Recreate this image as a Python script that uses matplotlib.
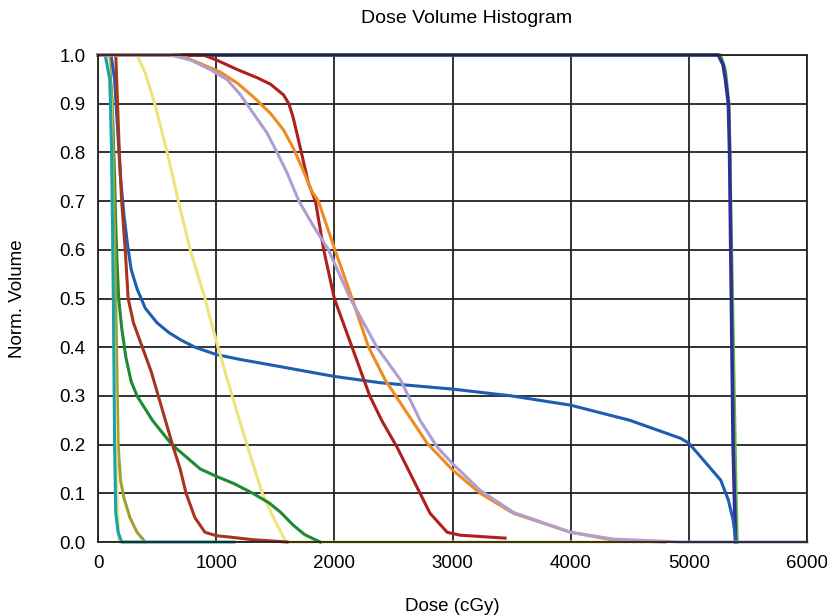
import matplotlib
matplotlib.use("Agg")
import matplotlib.pyplot as plt

plt.rcParams["font.family"] = ["Liberation Sans", "DejaVu Sans"]

# Cumulative dose-volume curves: dose in cGy, normalised volume
ptv_dose = [0, 5250, 5290, 5310, 5335, 5345, 5360, 5375, 5385, 5395]
ptv_vol = [1.0, 1.0, 0.98, 0.95, 0.9, 0.8, 0.5, 0.2, 0.1, 0.0]

ctv_dose = [0, 5270, 5310, 5340, 5355, 5370, 5385, 5400, 5410]
ctv_vol = [1.0, 1.0, 0.97, 0.9, 0.7, 0.5, 0.3, 0.1, 0.0]

body_dose = [0, 110, 140, 165, 190, 220, 250, 280, 330, 400, 500, 600, 700, 820,
             1000, 1200, 1500, 2000, 2390, 3000, 3500, 4000, 4500, 4930, 5000,
             5100, 5270, 5335, 5375, 5400]
body_vol = [1.0, 1.0, 0.95, 0.85, 0.75, 0.67, 0.61, 0.56, 0.52, 0.48, 0.45, 0.43,
            0.415, 0.40, 0.385, 0.375, 0.362, 0.34, 0.327, 0.314, 0.30, 0.281,
            0.25, 0.213, 0.203, 0.175, 0.127, 0.086, 0.045, 0.0]

teal_dose = [0, 60, 100, 115, 125, 130, 140, 150, 170, 200, 1150]
teal_vol = [1.0, 1.0, 0.95, 0.8, 0.6, 0.5, 0.2, 0.06, 0.02, 0.0, 0.0]

olive_dose = [0, 90, 120, 150, 170, 190, 220, 270, 330, 400]
olive_vol = [1.0, 1.0, 0.9, 0.5, 0.2, 0.127, 0.09, 0.05, 0.02, 0.0]

pale_dose = [0, 80, 110, 130, 150, 175, 400]
pale_vol = [1.0, 1.0, 0.9, 0.5, 0.2, 0.0, 0.0]

green_dose = [0, 90, 120, 140, 150, 160, 175, 200, 235, 280, 330, 460, 625, 865,
              1000, 1150, 1310, 1450, 1550, 1650, 1750, 1880]
green_vol = [1.0, 1.0, 0.9, 0.75, 0.65, 0.58, 0.5, 0.44, 0.38, 0.33, 0.3, 0.25,
             0.2, 0.15, 0.135, 0.12, 0.1, 0.08, 0.06, 0.035, 0.015, 0.0]

brown_dose = [0, 150, 165, 180, 200, 230, 255, 300, 375, 450, 510, 630, 695, 745,
              820, 905, 1000, 1120, 1300, 1600]
brown_vol = [1.0, 1.0, 0.9, 0.8, 0.7, 0.6, 0.5, 0.45, 0.4, 0.35, 0.3, 0.2, 0.15,
             0.1, 0.05, 0.02, 0.013, 0.01, 0.005, 0.0]

yellow_dose = [0, 330, 400, 480, 585, 680, 780, 905, 1015, 1135, 1260, 1390, 1485,
               1590, 4800]
yellow_vol = [1.0, 1.0, 0.963, 0.9, 0.8, 0.7, 0.6, 0.5, 0.4, 0.3, 0.2, 0.1, 0.05,
              0.0, 0.0]

red_dose = [0, 890, 1000, 1180, 1350, 1460, 1570, 1615, 1650, 1690, 1735, 1780,
            1840, 1910, 2000, 2150, 2300, 2400, 2530, 2670, 2810, 2955, 3065, 3445]
red_vol = [1.0, 1.0, 0.99, 0.97, 0.953, 0.94, 0.918, 0.9, 0.873, 0.832, 0.785,
           0.737, 0.7, 0.6, 0.5, 0.4, 0.3, 0.25, 0.195, 0.127, 0.059, 0.02, 0.014,
           0.008]

orange_dose = [0, 695, 890, 1035, 1180, 1315, 1460, 1570, 1650, 1735, 1810, 1865,
               2005, 2150, 2290, 2430, 2615, 2785, 3000, 3235, 3515, 4000, 4360,
               4800]
orange_vol = [1.0, 1.0, 0.98, 0.965, 0.942, 0.914, 0.88, 0.846, 0.81, 0.764, 0.72,
              0.7, 0.6, 0.5, 0.4, 0.333, 0.265, 0.203, 0.148, 0.1, 0.059, 0.02,
              0.004, 0.0]

lavender_dose = [0, 610, 780, 950, 1090, 1200, 1315, 1430, 1515, 1600, 1700, 1820,
                 1950, 2135, 2360, 2560, 2725, 2870, 3000, 3235, 3515, 4000, 4360,
                 4930, 6000]
lavender_vol = [1.0, 1.0, 0.99, 0.97, 0.95, 0.92, 0.88, 0.84, 0.80, 0.758, 0.70,
                0.65, 0.6, 0.5, 0.4, 0.333, 0.25, 0.195, 0.161, 0.106, 0.061, 0.02,
                0.006, 0.0, 0.0]

x_ticks = [0, 1000, 2000, 3000, 4000, 5000, 6000]
y_ticks = [0.0, 0.1, 0.2, 0.3, 0.4, 0.5, 0.6, 0.7, 0.8, 0.9, 1.0]

fig = plt.figure(figsize=(8.28, 6.16), dpi=100)
ax = fig.add_axes([0.1184, 0.1201, 0.8562, 0.7906])

ax.set_xlim(0, 6000)
ax.set_ylim(0, 1.0)
ax.set_xticks(x_ticks)
ax.set_yticks(y_ticks)
ax.set_xticklabels([str(t) for t in x_ticks])
ax.set_yticklabels([f"{t:.1f}" for t in y_ticks])
ax.tick_params(length=0, labelsize=13.5, pad=9)
ax.grid(True, color="#222222", linewidth=1.3)
ax.set_axisbelow(True)
for s in ax.spines.values():
    s.set_color("#222222")
    s.set_linewidth(1.3)

lw = 2.2
ax.plot(ctv_dose, ctv_vol, color="#63BB4A", lw=lw, clip_on=False)
ax.plot(ptv_dose, ptv_vol, color="#2E3192", lw=lw + 0.4, clip_on=False)
ax.plot(body_dose, body_vol, color="#1D5DB2", lw=lw, clip_on=False)
ax.plot(yellow_dose, yellow_vol, color="#EFE37C", lw=lw, clip_on=False)
ax.plot(green_dose, green_vol, color="#1E8A32", lw=lw, clip_on=False)
ax.plot(brown_dose, brown_vol, color="#A8341E", lw=lw, clip_on=False)
ax.plot(olive_dose, olive_vol, color="#A0A032", lw=lw, clip_on=False)
ax.plot(pale_dose, pale_vol, color="#EEE48A", lw=lw, clip_on=False)
ax.plot(teal_dose, teal_vol, color="#17A3A8", lw=lw, clip_on=False)
ax.plot(red_dose, red_vol, color="#B01E1E", lw=lw, clip_on=False)
ax.plot(orange_dose, orange_vol, color="#F08A22", lw=lw, clip_on=False)
ax.plot(lavender_dose, lavender_vol, color="#AE9ED2", lw=lw, clip_on=False)

fig.text(0.564, 0.97, "Dose Volume Histogram", ha="center", va="center",
         fontsize=14)
ax.set_xlabel("Dose (cGy)", fontsize=13.5, labelpad=19)
ax.set_ylabel("Norm. Volume", fontsize=13.5, labelpad=24)

fig.savefig("out.png", dpi=100)
